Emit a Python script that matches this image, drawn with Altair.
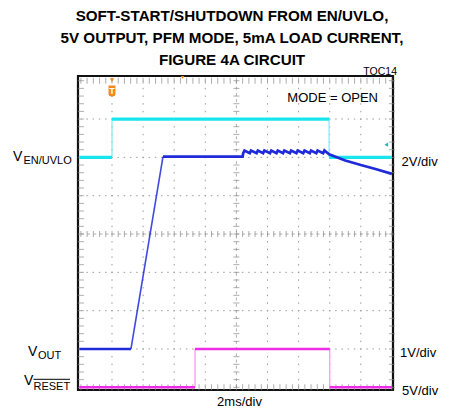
import altair as alt
import pandas as pd

# ---------------- data ----------------
# x: time in screen divisions (2 ms/div, 10 divisions)
# y: screen divisions counted from the bottom graticule line (8 divisions)

# V_EN/UVLO (2V/div): piecewise-constant levels
en_start = [-0.05, 1.00, 7.98]
en_end = [1.00, 7.98, 10.00]
en_level = [6.00, 7.00, 6.00]

# V_RESET (5V/div)
rst_start = [-0.05, 3.67, 8.00]
rst_end = [3.67, 8.00, 10.00]
rst_level = [0.00, 1.00, 0.00]

# V_OUT (1V/div): pre-bias, soft-start ramp, regulation, PFM ripple, shutdown decay
vout_t = [-0.05, 1.61, 2.64, 5.20, 5.22, 5.26, 5.43, 5.47, 5.65, 5.69, 5.86, 5.90,
          6.08, 6.12, 6.29, 6.33, 6.50, 6.54, 6.72, 6.76, 6.93, 6.97, 7.15, 7.19,
          7.36, 7.40, 7.57, 7.61, 7.79, 7.83, 7.98, 8.50, 9.00, 9.50, 10.00]
vout_v = [1.00, 1.00, 6.02, 6.02, 6.11, 6.18, 6.11, 6.18, 6.11, 6.18, 6.11, 6.18,
          6.11, 6.18, 6.11, 6.18, 6.11, 6.18, 6.11, 6.18, 6.11, 6.18, 6.11, 6.18,
          6.11, 6.18, 6.11, 6.18, 6.11, 6.18, 6.08, 5.92, 5.80, 5.69, 5.57]

trig_time = en_end[0]      # trigger point (EN rising edge)
trig_pos = [3.27]          # trigger position marker on the top edge
ch1_mark_x = [9.82]        # channel-1 level marker
ch1_mark_y = [6.33]

title_lines = ["SOFT-START/SHUTDOWN FROM EN/UVLO,",
               "5V OUTPUT, PFM MODE, 5mA LOAD CURRENT,",
               "FIGURE 4A CIRCUIT"]

# ---------------- style ----------------
FONT = "Liberation Sans"
CYAN = "#19e5ee"
CYAN_EDGE = "#86eef4"
BLUE = "#1f2ad8"
MAGENTA = "#ee2ee6"
MAG_EDGE = "#f59cee"
ORANGE = "#f28a1e"
GRID = "#9c9c9c"
TICK = "#8a8a8a"

xs = alt.Scale(domain=[-0.093, 10.035], nice=False, zero=False)
ys = alt.Scale(domain=[-0.07, 8.123], nice=False, zero=False)


def X(field=None, datum=None):
    if field is not None:
        return alt.X(field, type="quantitative", scale=xs, axis=None)
    return alt.X(datum=datum, type="quantitative", scale=xs, axis=None)


def Y(field=None, datum=None):
    if field is not None:
        return alt.Y(field, type="quantitative", scale=ys, axis=None)
    return alt.Y(datum=datum, type="quantitative", scale=ys, axis=None)


one = pd.DataFrame({"k": [0]})
layers = []

# ---------------- graticule ----------------
gx = alt.Chart(alt.sequence(1, 10, 1, as_="g")).transform_filter("datum.g != 5")
layers.append(gx.mark_rule(color=GRID, strokeDash=[1.5, 6.16], strokeDashOffset=0.75, strokeWidth=1)
              .encode(x=X("g"), y=Y(datum=0), y2=alt.Y2(datum=8)))
gy = alt.Chart(alt.sequence(1, 8, 1, as_="g")).transform_filter("datum.g != 4")
layers.append(gy.mark_rule(color=GRID, strokeDash=[1.5, 4.72], strokeDashOffset=0.75, strokeWidth=1)
              .encode(y=Y("g"), x=X(datum=0), x2=alt.X2(datum=10)))
# centre cross
layers.append(alt.Chart(one).mark_rule(color="#b0b0b0", strokeDash=[3, 3.2], strokeWidth=1)
              .encode(x=X(datum=5), y=Y(datum=0), y2=alt.Y2(datum=8)))
layers.append(alt.Chart(one).mark_rule(color="#b0b0b0", strokeDash=[3, 3.2], strokeWidth=1)
              .encode(y=Y(datum=4), x=X(datum=0), x2=alt.X2(datum=10)))

seq_x = alt.sequence(0, 10.001, 0.2, as_="v")
seq_y = alt.sequence(0, 8.001, 0.2, as_="v")
for yy in [0, 4, 8]:
    layers.append(alt.Chart(seq_x).mark_tick(orient="vertical", size=6, thickness=1, color=TICK)
                  .encode(x=X("v"), y=Y(datum=yy)))
for xx in [0, 5, 10]:
    layers.append(alt.Chart(seq_y).mark_tick(orient="horizontal", size=6, thickness=1, color=TICK)
                  .encode(y=Y("v"), x=X(datum=xx)))

# ---------------- traces ----------------
en_df = pd.DataFrame({"t0": en_start, "t1": en_end, "v": en_level})
en_edge = pd.DataFrame({"t": en_end[:-1], "v0": en_level[:-1], "v1": en_level[1:]})
rst_df = pd.DataFrame({"t0": rst_start, "t1": rst_end, "v": rst_level})
rst_edge = pd.DataFrame({"t": rst_end[:-1], "v0": rst_level[:-1], "v1": rst_level[1:]})

layers.append(alt.Chart(en_edge).mark_rule(color=CYAN_EDGE, strokeWidth=1.3)
              .encode(x=X("t"), y=Y("v0"), y2="v1"))
layers.append(alt.Chart(en_df).mark_rule(color=CYAN, strokeWidth=3.2)
              .encode(x=X("t0"), x2="t1", y=Y("v")))
layers.append(alt.Chart(rst_edge).mark_rule(color=MAG_EDGE, strokeWidth=1.3)
              .encode(x=X("t"), y=Y("v0"), y2="v1"))
layers.append(alt.Chart(rst_df).mark_rule(color=MAGENTA, strokeWidth=2.6)
              .encode(x=X("t0"), x2="t1", y=Y("v")))

vout = pd.DataFrame({"t": vout_t, "v": vout_v})
vout["part"] = ["a" if t <= 1.61 else ("b" if t >= 2.64 else "r") for t in vout_t]
ramp = vout[(vout.t >= 1.61) & (vout.t <= 2.64)]
layers.append(alt.Chart(ramp).mark_line(color=BLUE, strokeWidth=1.6, opacity=0.85)
              .encode(x=X("t"), y=Y("v"), order="t:Q"))
layers.append(alt.Chart(vout[vout.part != "r"]).mark_line(color=BLUE, strokeWidth=2.7)
              .encode(x=X("t"), y=Y("v"), detail="part:N", order="t:Q"))

# ---------------- scope markers ----------------
layers.append(alt.Chart(pd.DataFrame({"t": [trig_time]})).mark_point(
    shape="M-0.62,-1 L0.62,-1 L0.62,0.55 Q0.62,1 0,1 Q-0.62,1 -0.62,0.55 Z",
    filled=True, size=125, color=ORANGE, opacity=1)
    .encode(x=X("t"), y=alt.value(15)))
layers.append(alt.Chart(pd.DataFrame({"t": [trig_time]})).mark_point(
    shape="triangle-down", filled=True, size=18, color=ORANGE, opacity=1)
    .encode(x=X("t"), y=alt.value(4)))
layers.append(alt.Chart(pd.DataFrame({"t": [trig_time]})).mark_text(
    text="T", font=FONT, fontWeight="bold", fontSize=9, color="white", baseline="middle")
    .encode(x=X("t"), y=alt.value(15)))
layers.append(alt.Chart(pd.DataFrame({"t": trig_pos})).mark_point(
    shape="triangle-down", filled=True, size=12, color=ORANGE, opacity=1)
    .encode(x=X("t"), y=alt.value(1.5)))
layers.append(alt.Chart(pd.DataFrame({"t": ch1_mark_x, "v": ch1_mark_y})).mark_point(
    shape="triangle-left", filled=True, size=18, color="#22b4b4", opacity=1)
    .encode(x=X("t"), y=Y("v")))

# ---------------- text ----------------


def label(text, x, y, size=13, align="left", weight="normal", baseline="alphabetic"):
    return alt.Chart(one).mark_text(text=text, font=FONT, fontSize=size, fontWeight=weight,
                                    align=align, baseline=baseline, color="black").encode(
        x=alt.value(x), y=alt.value(y))


for i, line in enumerate(title_lines):
    layers.append(label(line, 154, -55.5 + 22 * i, size=15.2, align="center", weight="bold"))

layers.append(label("TOC14", 319, -1.5, size=10.5, align="right"))
layers.append(label("MODE = OPEN", 300, 25.7, size=13, align="right"))

# left channel labels
layers.append(label("V", -65, 85, size=14))
layers.append(label("EN/UVLO", -54.5, 88, size=11))
layers.append(label("V", -50, 279.5, size=14))
layers.append(label("OUT", -40, 283, size=11))
layers.append(label("V", -54, 309, size=14))
layers.append(label("RESET", -44.5, 314, size=11))
layers.append(alt.Chart(one).mark_rule(color="black", strokeWidth=1)
              .encode(x=alt.value(-44.5), x2=alt.value(-8), y=alt.value(303.3)))

# right scale labels
layers.append(label("2V/div", 323.5, 89.5))
layers.append(label("1V/div", 322, 281))
layers.append(label("5V/div", 324, 319))
layers.append(label("2ms/div", 161.5, 330, align="center"))

chart = alt.layer(*layers).properties(
    width=315, height=314, autosize="none",
    padding={"left": 70, "top": 68, "right": 50, "bottom": 20},
    background="white",
).configure_view(stroke="#111111", strokeWidth=2.2)

chart.save("out.html", embed_options={"renderer": "svg", "actions": False})
